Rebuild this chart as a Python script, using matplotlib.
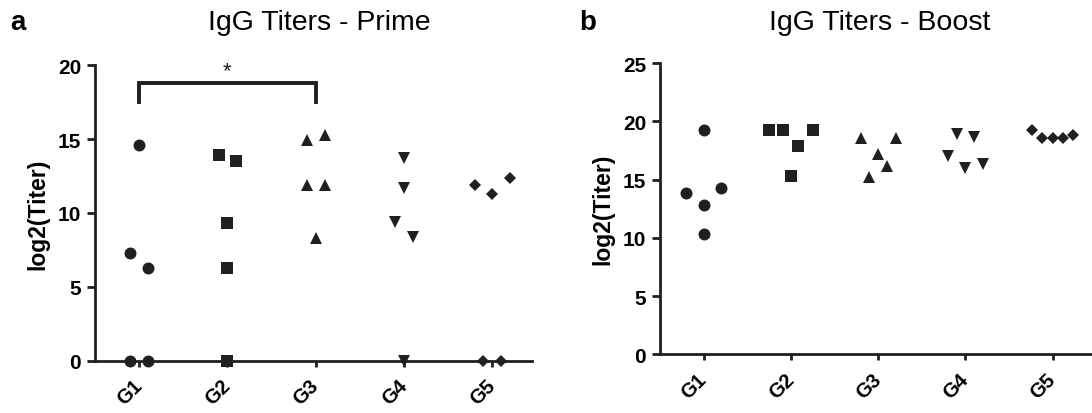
import matplotlib
matplotlib.use("Agg")
import matplotlib.pyplot as plt

plt.rcParams['font.family'] = ['Liberation Sans', 'DejaVu Sans']

# grupit ja merkit
groups = ["G1", "G2", "G3", "G4", "G5"]
markers = ["o", "s", "^", "v", "D"]

# Prime-vaihe: log2(titer) arvot ja pisteiden sivusiirrot
prime_vals = [
    [14.6, 7.3, 6.3, 0, 0],
    [13.9, 13.5, 9.35, 6.3, 0],
    [14.9, 15.3, 11.9, 11.9, 8.3],
    [13.7, 11.7, 9.4, 8.35, 0],
    [11.9, 11.3, 12.35, 0, 0],
]
prime_jitter = [
    [0, -0.1, 0.1, -0.1, 0.1],
    [-0.1, 0.1, 0, 0, 0],
    [-0.1, 0.1, -0.1, 0.1, 0],
    [0, 0, -0.1, 0.1, 0],
    [-0.2, 0, 0.2, -0.1, 0.1],
]

# Boost-vaihe
boost_vals = [
    [19.3, 13.85, 12.85, 14.3, 10.3],
    [19.3, 19.3, 17.85, 19.3, 15.3],
    [18.55, 18.55, 17.2, 16.2, 15.2],
    [18.95, 18.7, 17.0, 16.0, 16.35],
    [19.3, 18.55, 18.55, 18.55, 18.85],
]
boost_jitter = [
    [0, -0.2, 0, 0.2, 0],
    [-0.25, -0.085, 0.085, 0.25, 0],
    [-0.2, 0.2, 0, 0.1, -0.1],
    [-0.1, 0.1, -0.2, 0, 0.2],
    [-0.235, -0.12, 0, 0.115, 0.23],
]

INK = "#231f20"

fig = plt.figure(figsize=(10.92, 4.14), dpi=100)
ax1 = fig.add_axes([0.087, 0.1263, 0.4002, 0.714])
ax2 = fig.add_axes([0.6044, 0.1418, 0.3956, 0.703])


def piirra(ax, vals, jitter, ymax, step):
    for i, g in enumerate(groups):
        xs = [i + 1 + d for d in jitter[i]]
        ms = 6.3 if markers[i] == "D" else 8.6
        ax.plot(xs, vals[i], linestyle="none", marker=markers[i], markersize=ms,
                color=INK, markeredgewidth=0, clip_on=False, zorder=3)
    ax.set_xlim(0.5, 5.45)
    ax.set_ylim(0, ymax)
    ax.set_yticks(range(0, ymax + 1, step))
    ax.set_xticks(range(1, 6))
    ax.set_xticklabels(groups, rotation=45, ha="right", va="center",
                       rotation_mode="anchor", fontsize=14.5, fontweight="bold")
    for lab in ax.get_yticklabels():
        lab.set_fontsize(15)
        lab.set_fontweight("bold")
    for s in ["top", "right"]:
        ax.spines[s].set_visible(False)
    for s in ["left", "bottom"]:
        ax.spines[s].set_linewidth(2)
        ax.spines[s].set_color(INK)
    ax.tick_params(axis="y", length=6, width=2, color=INK, pad=4)
    ax.tick_params(axis="x", length=4.5, width=2, color=INK, pad=11)
    ax.set_ylabel("log2(Titer)", fontsize=16.5, fontweight="bold", labelpad=6)


piirra(ax1, prime_vals, prime_jitter, 20, 5)
piirra(ax2, boost_vals, boost_jitter, 25, 5)

# merkitsevyys G1 vs G3
ax1.plot([1, 1, 3, 3], [17.5, 18.8, 18.8, 17.5], color=INK, lw=2.8,
         clip_on=False, solid_joinstyle="miter")
ax1.text(2, 19.6, "*", ha="center", va="center", fontsize=16, color=INK)

fig.text(0.292, 0.944, "IgG Titers - Prime", ha="center", va="center", fontsize=20.5)
fig.text(0.806, 0.944, "IgG Titers - Boost", ha="center", va="center", fontsize=20.5)
fig.text(0.009, 0.944, "a", ha="left", va="center", fontsize=20, fontweight="bold")
fig.text(0.530, 0.944, "b", ha="left", va="center", fontsize=20, fontweight="bold")

fig.savefig("out.png", dpi=100)
